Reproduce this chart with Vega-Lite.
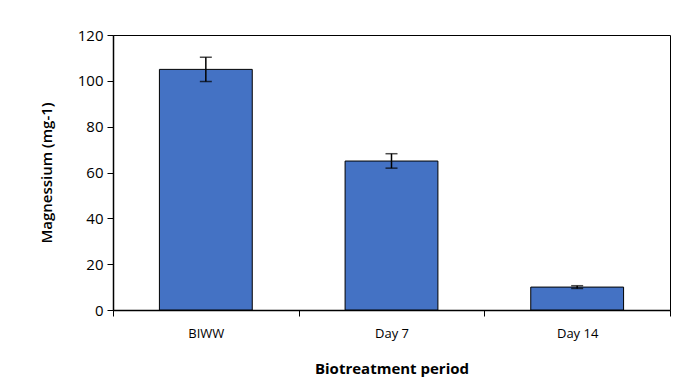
{
  "$schema": "https://vega.github.io/schema/vega-lite/v6.json",
  "autosize": {"type": "none"},
  "width": 557,
  "height": 275,
  "padding": {"left": 113, "top": 35, "right": 17, "bottom": 76},
  "background": "white",
  "config": {
    "view": {"stroke": "black", "strokeWidth": 1},
    "font": "Open Sans",
    "axis": {"grid": false, "domainColor": "black", "tickColor": "black", "labelColor": "black", "titleColor": "black", "domainWidth": 1.5}
  },
  "data": {
    "values": [
      {"period": "BIWW", "value": 105, "lo": 99.7, "hi": 110.3},
      {"period": "Day 7", "value": 65, "lo": 61.9, "hi": 68.2},
      {"period": "Day 14", "value": 10, "lo": 9.4, "hi": 10.6}
    ]
  },
  "encoding": {
    "x": {
      "field": "period", "type": "nominal", "sort": null,
      "scale": {"paddingInner": 0, "paddingOuter": 0},
      "axis": {"title": "Biotreatment period", "labelAngle": 0, "labelFontSize": 13, "labelPadding": 11, "tickBand": "extent", "tickSize": 6, "titleFontSize": 15, "titleFontWeight": "bold", "titlePadding": 21}
    }
  },
  "layer": [
    {
      "mark": {"type": "bar", "color": "#4472C4", "stroke": "black", "strokeWidth": 1, "width": {"band": 0.5}},
      "encoding": {
        "y": {
          "field": "value", "type": "quantitative",
          "scale": {"domain": [0, 120]},
          "axis": {"title": "Magnessium (mg-1)", "values": [0, 20, 40, 60, 80, 100, 120], "labelFontSize": 15, "tickSize": 6, "labelPadding": 4, "titleFontSize": 15, "titleFontWeight": 600, "titlePadding": 23}
        }
      }
    },
    {
      "mark": {"type": "rule", "color": "black", "strokeWidth": 1.5},
      "encoding": {"y": {"field": "lo", "type": "quantitative"}, "y2": {"field": "hi"}}
    },
    {
      "mark": {"type": "tick", "color": "black", "size": 12, "thickness": 1.5},
      "encoding": {"y": {"field": "lo", "type": "quantitative"}}
    },
    {
      "mark": {"type": "tick", "color": "black", "size": 12, "thickness": 1.5},
      "encoding": {"y": {"field": "hi", "type": "quantitative"}}
    }
  ]
}
